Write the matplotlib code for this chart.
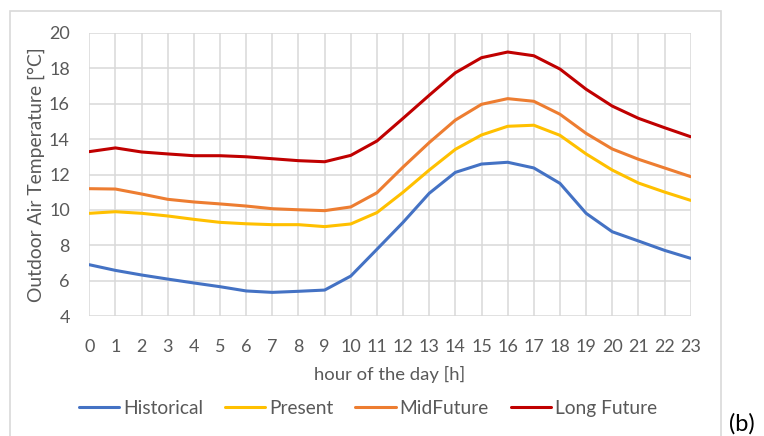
import matplotlib
matplotlib.use("Agg")
import matplotlib.pyplot as plt
from matplotlib.patches import Rectangle

hours = list(range(24))
historical = [6.91, 6.59, 6.33, 6.10, 5.88, 5.67, 5.43, 5.35, 5.41, 5.48, 6.27, 7.78,
              9.30, 10.94, 12.12, 12.59, 12.69, 12.37, 11.50, 9.81, 8.77, 8.25, 7.72, 7.27]
present = [9.81, 9.90, 9.81, 9.66, 9.47, 9.30, 9.22, 9.17, 9.17, 9.06, 9.21, 9.85,
           11.00, 12.25, 13.42, 14.23, 14.72, 14.78, 14.21, 13.16, 12.25, 11.52, 11.01, 10.54]
mid_future = [11.20, 11.18, 10.90, 10.60, 10.45, 10.34, 10.22, 10.07, 10.01, 9.96, 10.17, 10.97,
              12.42, 13.80, 15.07, 15.96, 16.28, 16.13, 15.40, 14.32, 13.44, 12.86, 12.37, 11.88]
long_future = [13.29, 13.50, 13.27, 13.16, 13.06, 13.06, 13.00, 12.89, 12.78, 12.72, 13.08, 13.89,
               15.17, 16.47, 17.74, 18.59, 18.91, 18.70, 17.95, 16.81, 15.86, 15.17, 14.64, 14.13]
series_names = ["Historical", "Present", "MidFuture", "Long Future"]
y_ticks = [4, 6, 8, 10, 12, 14, 16, 18, 20]
x_label = "hour of the day [h]"
y_label = "Outdoor Air Temperature [°C]"

colors = ["#4472C4", "#FFC000", "#ED7D31", "#C00000"]
text_color = "#595959"
grid_color = "#D9D9D9"

plt.rcParams['font.family'] = ['Lato', 'DejaVu Sans']

fig = plt.figure(figsize=(7.64, 4.36), dpi=100)
fig.patch.set_facecolor("white")
# outer chart frame
fig.patches.append(Rectangle((10/764, -0.05), (721-10)/764, 1 - 11/436 + 0.05,
                             transform=fig.transFigure, fill=False,
                             edgecolor=grid_color, lw=1.2))

ax = fig.add_axes([89.3/764, 1 - 316.3/436, (690.7-89.3)/764, (316.3-32.7)/436])
for vals, name, c in zip([historical, present, mid_future, long_future], series_names, colors):
    ax.plot(hours, vals, color=c, lw=2.2, label=name, solid_capstyle='round')

ax.set_xlim(0, 23)
ax.set_ylim(4, 20)
ax.set_xticks(hours)
ax.set_yticks(y_ticks)
ax.grid(True, color=grid_color, lw=1.1)
ax.set_axisbelow(True)
for s in ax.spines.values():
    s.set_visible(False)
ax.tick_params(axis='both', length=0, labelsize=13, colors=text_color)
ax.tick_params(axis='x', pad=16)
ax.tick_params(axis='y', pad=14)
ax.set_xlabel(x_label, fontsize=13.3, color=text_color, labelpad=8)
ax.set_ylabel(y_label, fontsize=13.9, color=text_color, labelpad=3)

leg = fig.legend(loc='center', bbox_to_anchor=(368/764, 1 - 408/436), ncol=4,
                 frameon=False, fontsize=13.8, handlelength=2.1, handletextpad=0.2,
                 columnspacing=1.15)
for t in leg.get_texts():
    t.set_color(text_color)

fig.text(729/764, 1/436, "(b)", fontsize=17, color="#000000", ha='left', va='bottom')

fig.savefig("out.png", dpi=100)
